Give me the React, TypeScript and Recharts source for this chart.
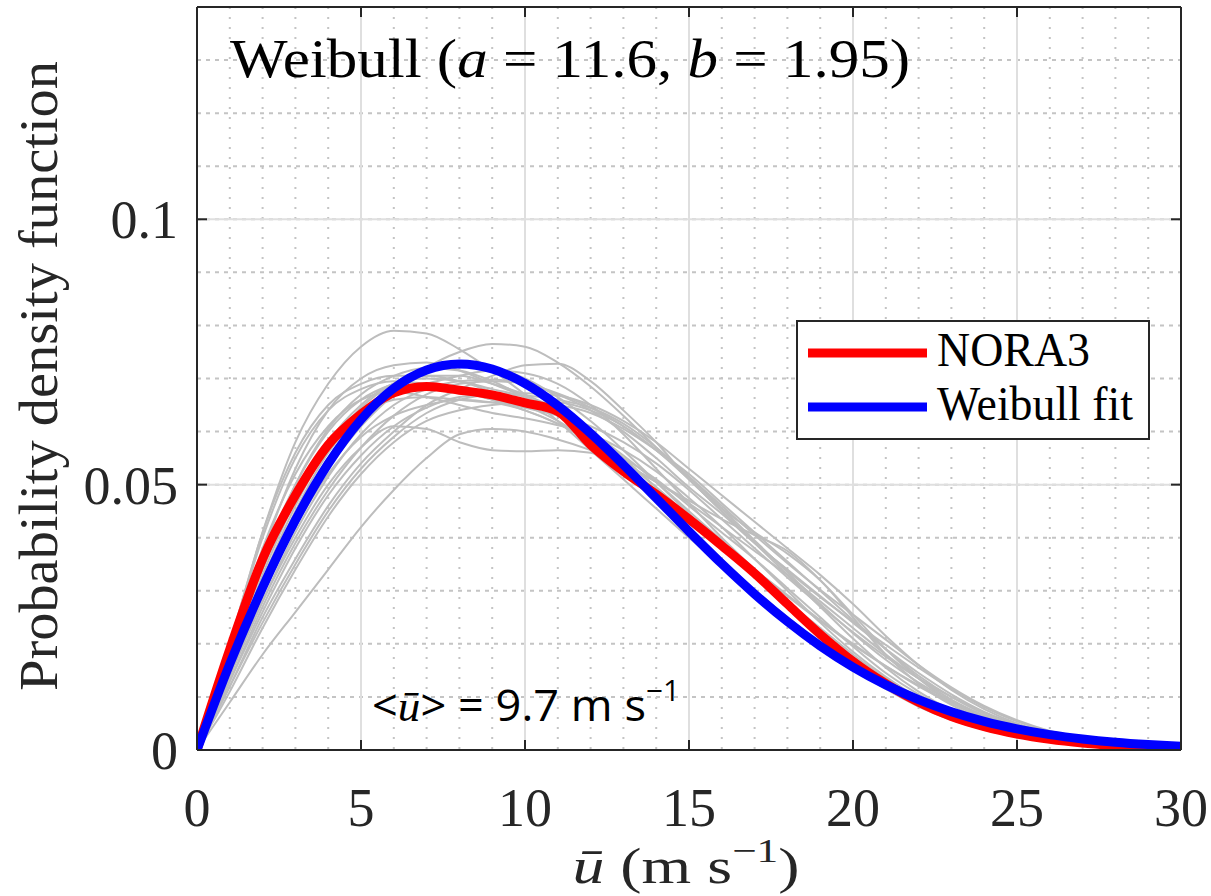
import React from "react";
import { LineChart, Line, XAxis, YAxis, CartesianGrid, Legend } from "recharts";

// wind speed bins (m/s)
const speeds = [0, 1, 2, 3, 4, 5, 6, 7, 8, 9, 10, 11, 12, 13, 14, 15, 16, 17, 18, 19, 20, 21, 22, 23, 24, 25, 26, 27, 28, 29, 30];

const nora3 = [0, 0.019, 0.036, 0.048, 0.0575, 0.0633, 0.0673, 0.0685, 0.0678, 0.0669, 0.0654, 0.0638, 0.0575, 0.0525, 0.0482, 0.0435, 0.0385, 0.0333, 0.0275, 0.0218, 0.0167, 0.0125, 0.009, 0.0063, 0.0044, 0.003, 0.002, 0.0013, 0.0008, 0.0004, 0.0002];
const weibullFit = [0, 0.01624, 0.03063, 0.0433, 0.05393, 0.06226, 0.06816, 0.07161, 0.07275, 0.0718, 0.06905, 0.06488, 0.05965, 0.05373, 0.04747, 0.04118, 0.03509, 0.02939, 0.0242, 0.0196, 0.01563, 0.01227, 0.00948, 0.00721, 0.0054, 0.00399, 0.0029, 0.00208, 0.00147, 0.00103, 0.0007];

// individual points (grey)
const member01 = [0, 0.02, 0.041, 0.058, 0.069, 0.076, 0.079, 0.0785, 0.0755, 0.0715, 0.067, 0.062, 0.0565, 0.051, 0.0455, 0.04, 0.035, 0.03, 0.025, 0.02, 0.0155, 0.0115, 0.0082, 0.0057, 0.0038, 0.0025, 0.0016, 0.001, 0.0006, 0.0003, 0.0002];
const member02 = [0, 0.015, 0.03, 0.043, 0.053, 0.061, 0.067, 0.072, 0.075, 0.0765, 0.076, 0.073, 0.0685, 0.063, 0.057, 0.051, 0.045, 0.039, 0.033, 0.027, 0.021, 0.0155, 0.011, 0.0075, 0.005, 0.0032, 0.002, 0.0012, 0.0007, 0.0004, 0.0002];
const member03 = [0, 0.012, 0.025, 0.036, 0.046, 0.054, 0.06, 0.065, 0.068, 0.0705, 0.0725, 0.0728, 0.0695, 0.064, 0.058, 0.051, 0.0455, 0.041, 0.037, 0.032, 0.0255, 0.019, 0.0135, 0.009, 0.006, 0.0038, 0.0024, 0.0015, 0.0009, 0.0005, 0.0002];
const member04 = [0, 0.009, 0.018, 0.026, 0.034, 0.042, 0.049, 0.055, 0.0595, 0.0605, 0.06, 0.0585, 0.0565, 0.054, 0.0505, 0.0465, 0.042, 0.0375, 0.033, 0.028, 0.023, 0.018, 0.0135, 0.0095, 0.0065, 0.0043, 0.0028, 0.0017, 0.001, 0.0006, 0.0003];
const member05 = [0, 0.014, 0.028, 0.04, 0.05, 0.057, 0.061, 0.0605, 0.058, 0.0565, 0.0563, 0.0565, 0.056, 0.0535, 0.049, 0.044, 0.039, 0.0335, 0.028, 0.023, 0.018, 0.0135, 0.0098, 0.007, 0.0048, 0.0032, 0.002, 0.0012, 0.0007, 0.0004, 0.0002];
const member06 = [0, 0.018, 0.037, 0.053, 0.064, 0.07, 0.0725, 0.073, 0.0715, 0.069, 0.0665, 0.063, 0.0585, 0.053, 0.047, 0.041, 0.035, 0.0295, 0.0245, 0.0198, 0.0155, 0.0118, 0.0087, 0.0062, 0.0042, 0.0028, 0.0018, 0.0011, 0.0006, 0.0003, 0.0002];
const member07 = [0, 0.016, 0.033, 0.047, 0.058, 0.065, 0.069, 0.07, 0.0695, 0.068, 0.0665, 0.064, 0.06, 0.055, 0.0495, 0.044, 0.0385, 0.033, 0.0275, 0.0222, 0.0175, 0.0133, 0.0097, 0.0068, 0.0046, 0.003, 0.0019, 0.0012, 0.0007, 0.0004, 0.0002];
const member08 = [0, 0.013, 0.027, 0.039, 0.049, 0.057, 0.063, 0.067, 0.069, 0.0695, 0.069, 0.067, 0.064, 0.06, 0.055, 0.0495, 0.0445, 0.039, 0.034, 0.029, 0.024, 0.019, 0.0145, 0.0105, 0.0072, 0.0048, 0.003, 0.0018, 0.001, 0.0006, 0.0003];
const member09 = [0, 0.02, 0.04, 0.055, 0.064, 0.068, 0.0695, 0.069, 0.068, 0.066, 0.064, 0.0615, 0.0585, 0.055, 0.051, 0.046, 0.041, 0.036, 0.0305, 0.025, 0.0195, 0.0145, 0.0105, 0.0073, 0.005, 0.0033, 0.0021, 0.0013, 0.0008, 0.0004, 0.0002];
const member10 = [0, 0.017, 0.034, 0.048, 0.058, 0.064, 0.0675, 0.069, 0.0705, 0.0715, 0.071, 0.069, 0.065, 0.0595, 0.053, 0.0465, 0.04, 0.034, 0.028, 0.0225, 0.0175, 0.013, 0.0095, 0.0066, 0.0045, 0.003, 0.0019, 0.0012, 0.0007, 0.0004, 0.0002];
const member11 = [0, 0.014, 0.029, 0.042, 0.052, 0.059, 0.063, 0.065, 0.066, 0.0655, 0.064, 0.0615, 0.058, 0.054, 0.0505, 0.047, 0.0435, 0.0405, 0.0375, 0.032, 0.025, 0.018, 0.0125, 0.0085, 0.0057, 0.0037, 0.0024, 0.0015, 0.0009, 0.0005, 0.0002];
const member12 = [0, 0.015, 0.031, 0.045, 0.056, 0.063, 0.067, 0.068, 0.0675, 0.066, 0.0645, 0.063, 0.061, 0.058, 0.054, 0.049, 0.0435, 0.038, 0.0325, 0.0272, 0.0222, 0.0176, 0.0135, 0.01, 0.0071, 0.0048, 0.0031, 0.0019, 0.0011, 0.0006, 0.0003];
const member13 = [0, 0.019, 0.038, 0.052, 0.061, 0.066, 0.0675, 0.0665, 0.065, 0.0635, 0.0625, 0.0612, 0.0595, 0.0565, 0.0525, 0.0475, 0.042, 0.036, 0.03, 0.024, 0.0185, 0.0138, 0.0099, 0.0069, 0.0047, 0.0031, 0.002, 0.0012, 0.0007, 0.0004, 0.0002];
const member14 = [0, 0.011, 0.023, 0.034, 0.044, 0.052, 0.058, 0.062, 0.064, 0.065, 0.0655, 0.065, 0.0635, 0.0605, 0.0565, 0.052, 0.0465, 0.041, 0.0355, 0.03, 0.0245, 0.019, 0.014, 0.01, 0.0068, 0.0045, 0.0029, 0.0018, 0.001, 0.0006, 0.0003];
const member15 = [0, 0.016, 0.032, 0.046, 0.057, 0.0645, 0.069, 0.0715, 0.0725, 0.072, 0.07, 0.0665, 0.062, 0.0565, 0.0505, 0.0445, 0.0385, 0.0327, 0.0272, 0.022, 0.0172, 0.013, 0.0095, 0.0067, 0.0046, 0.003, 0.0019, 0.0012, 0.0007, 0.0004, 0.0002];
const member16 = [0, 0.013, 0.026, 0.038, 0.048, 0.0555, 0.061, 0.0645, 0.0665, 0.067, 0.0668, 0.066, 0.0645, 0.0615, 0.057, 0.0515, 0.0455, 0.0395, 0.0335, 0.0275, 0.022, 0.017, 0.0127, 0.0092, 0.0064, 0.0043, 0.0028, 0.0017, 0.001, 0.0006, 0.0003];
const member17 = [0, 0.018, 0.036, 0.05, 0.06, 0.066, 0.069, 0.0705, 0.0705, 0.069, 0.067, 0.064, 0.06, 0.0555, 0.0505, 0.045, 0.0395, 0.034, 0.029, 0.0243, 0.0198, 0.0158, 0.0122, 0.009, 0.0063, 0.0042, 0.0027, 0.0017, 0.001, 0.0006, 0.0003];
const member18 = [0, 0.012, 0.024, 0.035, 0.045, 0.053, 0.059, 0.0635, 0.066, 0.067, 0.0672, 0.0668, 0.065, 0.062, 0.058, 0.053, 0.048, 0.043, 0.038, 0.033, 0.0275, 0.0215, 0.016, 0.0113, 0.0077, 0.005, 0.0032, 0.002, 0.0012, 0.0007, 0.0003];
const member19 = [0, 0.02, 0.041, 0.056, 0.065, 0.069, 0.0705, 0.0705, 0.0695, 0.0675, 0.065, 0.062, 0.058, 0.0535, 0.048, 0.042, 0.036, 0.0302, 0.025, 0.0202, 0.0158, 0.012, 0.0088, 0.0062, 0.0042, 0.0028, 0.0018, 0.0011, 0.0006, 0.0003, 0.0002];
const member20 = [0, 0.015, 0.03, 0.044, 0.055, 0.0625, 0.066, 0.0665, 0.066, 0.0655, 0.0655, 0.0655, 0.064, 0.061, 0.0565, 0.051, 0.045, 0.0392, 0.0338, 0.0288, 0.0242, 0.0198, 0.0155, 0.0115, 0.0081, 0.0054, 0.0035, 0.0021, 0.0012, 0.0007, 0.0003];
const member21 = [0, 0.017, 0.035, 0.05, 0.0605, 0.067, 0.0705, 0.072, 0.0715, 0.0695, 0.0665, 0.063, 0.059, 0.0545, 0.0495, 0.0442, 0.039, 0.034, 0.0292, 0.0245, 0.02, 0.0158, 0.012, 0.0088, 0.0061, 0.0041, 0.0026, 0.0016, 0.001, 0.0006, 0.0003];
const member22 = [0, 0.014, 0.028, 0.041, 0.0515, 0.0595, 0.065, 0.068, 0.0695, 0.0698, 0.069, 0.0672, 0.0645, 0.061, 0.0565, 0.0515, 0.046, 0.0405, 0.0352, 0.0302, 0.0255, 0.0208, 0.016, 0.0118, 0.0083, 0.0056, 0.0036, 0.0022, 0.0013, 0.0007, 0.0003];

const members = [member01, member02, member03, member04, member05, member06, member07, member08, member09, member10, member11, member12, member13, member14, member15, member16, member17, member18, member19, member20, member21, member22];

const xTicks = [0, 5, 10, 15, 20, 25, 30];
const yTicks = [0, 0.05, 0.1];
const xMinorTicks = speeds;
const yMinorTicks = [0, 0.01, 0.02, 0.03, 0.04, 0.05, 0.06, 0.07, 0.08, 0.09, 0.1, 0.11, 0.12, 0.13, 0.14];

const data = speeds.map((u, i) => {
  const row: Record<string, number> = { u, nora3: nora3[i], weibull: weibullFit[i] };
  members.forEach((m, k) => (row["m" + k] = m[i]));
  return row;
});

const serif = "Liberation Serif";
const axisColor = "#262626";

const LegendBox = ({ payload }: any) => {
  const items = (payload || []).filter((p: any) => p.value === "NORA3" || p.value === "Weibull fit");
  const widths: Record<string, number> = { NORA3: 153, "Weibull fit": 196 };
  return (
    <svg width={354} height={120} style={{ display: "block" }}>
      <rect x={1} y={1} width={352} height={118} fill="#fff" stroke={axisColor} strokeWidth={2} />
      {items.map((p: any, i: number) => (
        <g key={p.value}>
          <line x1={12} x2={131} y1={33 + i * 54} y2={33 + i * 54} stroke={p.color} strokeWidth={9} />
          <text x={141} y={46 + i * 54} style={{ fontFamily: serif }} fontSize={49} fill="#000" textLength={widths[p.value]} lengthAdjust="spacingAndGlyphs">
            {p.value}
          </text>
        </g>
      ))}
    </svg>
  );
};

export default function App() {
  return (
    <div style={{ position: "absolute", left: 0, top: 0, width: 1211, height: 896, background: "#fff" }}>
      <LineChart width={1211} height={896} data={data} margin={{ top: 6, right: 29, bottom: 145, left: 196 }}>
        <XAxis xAxisId="minor" dataKey="u" type="number" domain={[0, 30]} ticks={xMinorTicks} allowDataOverflow hide />
        <YAxis yAxisId="minor" type="number" domain={[0, 0.14]} ticks={yMinorTicks} allowDataOverflow hide />
        <CartesianGrid xAxisId="minor" yAxisId="minor" horizontal={false} stroke="#c4c4c4" strokeWidth={2} strokeDasharray="2 8" />
        <CartesianGrid xAxisId="minor" yAxisId="minor" vertical={false} stroke="#c4c4c4" strokeWidth={2} strokeDasharray="4 5" />
        <CartesianGrid stroke="#dfdfdf" strokeWidth={2} />
        <XAxis
          dataKey="u"
          type="number"
          domain={[0, 30]}
          ticks={xTicks}
          allowDataOverflow
          height={1}
          tickSize={-10}
          tickMargin={48}
          axisLine={{ stroke: axisColor, strokeWidth: 2 }}
          tickLine={{ stroke: axisColor, strokeWidth: 2 }}
          tick={{ fontFamily: serif, fontSize: 54, fill: axisColor }}
        />
        <YAxis
          type="number"
          domain={[0, 0.14]}
          ticks={yTicks}
          allowDataOverflow
          width={1}
          tickSize={-10}
          tickMargin={29}
          tickFormatter={(v: number) => String(v)}
          axisLine={{ stroke: axisColor, strokeWidth: 2 }}
          tickLine={{ stroke: axisColor, strokeWidth: 2 }}
          tick={{ fontFamily: serif, fontSize: 54, fill: axisColor }}
        />
        <XAxis
          xAxisId="top"
          orientation="top"
          type="number"
          domain={[0, 30]}
          ticks={xTicks}
          allowDataOverflow
          height={1}
          tickSize={-10}
          tickFormatter={() => ""}
          axisLine={{ stroke: axisColor, strokeWidth: 2 }}
          tickLine={{ stroke: axisColor, strokeWidth: 2 }}
        />
        <YAxis
          yAxisId="right"
          orientation="right"
          type="number"
          domain={[0, 0.14]}
          ticks={yTicks}
          allowDataOverflow
          width={1}
          tickSize={-10}
          tickFormatter={() => ""}
          axisLine={{ stroke: axisColor, strokeWidth: 2 }}
          tickLine={{ stroke: axisColor, strokeWidth: 2 }}
        />
        {members.map((_, k) => (
          <Line
            key={"m" + k}
            dataKey={"m" + k}
            type="monotone"
            stroke="#bdbdbd"
            strokeWidth={2}
            dot={false}
            activeDot={false}
            legendType="none"
            isAnimationActive={false}
          />
        ))}
        <Line dataKey="nora3" name="NORA3" type="monotone" stroke="#ff0000" strokeWidth={9} dot={false} activeDot={false} isAnimationActive={false} />
        <Line dataKey="weibull" name="Weibull fit" type="monotone" stroke="#0000ff" strokeWidth={9} dot={false} activeDot={false} isAnimationActive={false} />
        <Legend
          layout="vertical"
          align="center"
          verticalAlign="middle"
          content={<LegendBox />}
          wrapperStyle={{ left: 796, top: 320, width: 354, height: 120 }}
        />
      </LineChart>
      <svg width={1211} height={896} style={{ position: "absolute", left: 0, top: 0, pointerEvents: "none", fontFamily: serif }}>
        <text x={230} y={77} fontSize={55} fill="#000" textLength={680} lengthAdjust="spacingAndGlyphs">
          Weibull (<tspan fontStyle="italic">a</tspan> = 11.6, <tspan fontStyle="italic">b</tspan> = 1.95)
        </text>
        <text transform="translate(57,376) rotate(-90)" textAnchor="middle" fontSize={54} fill={axisColor} textLength={630} lengthAdjust="spacingAndGlyphs">
          Probability density function
        </text>
        <text x={686} y={883} textAnchor="middle" fontSize={50} fill={axisColor} textLength={227} lengthAdjust="spacingAndGlyphs">
          <tspan fontStyle="italic">ū</tspan> (m s<tspan dy={-21} fontSize={34}>−1</tspan><tspan dy={21}>)</tspan>
        </text>
        <text x={372} y={721} style={{ fontFamily: "Open Sans" }} fontSize={44} fill="#000" textLength={308} lengthAdjust="spacingAndGlyphs">
          &lt;<tspan style={{ fontFamily: serif, fontStyle: "italic" }}>ū</tspan>&gt; = 9.7 m s<tspan dy={-20} fontSize={29}>−1</tspan>
        </text>
      </svg>
    </div>
  );
}
